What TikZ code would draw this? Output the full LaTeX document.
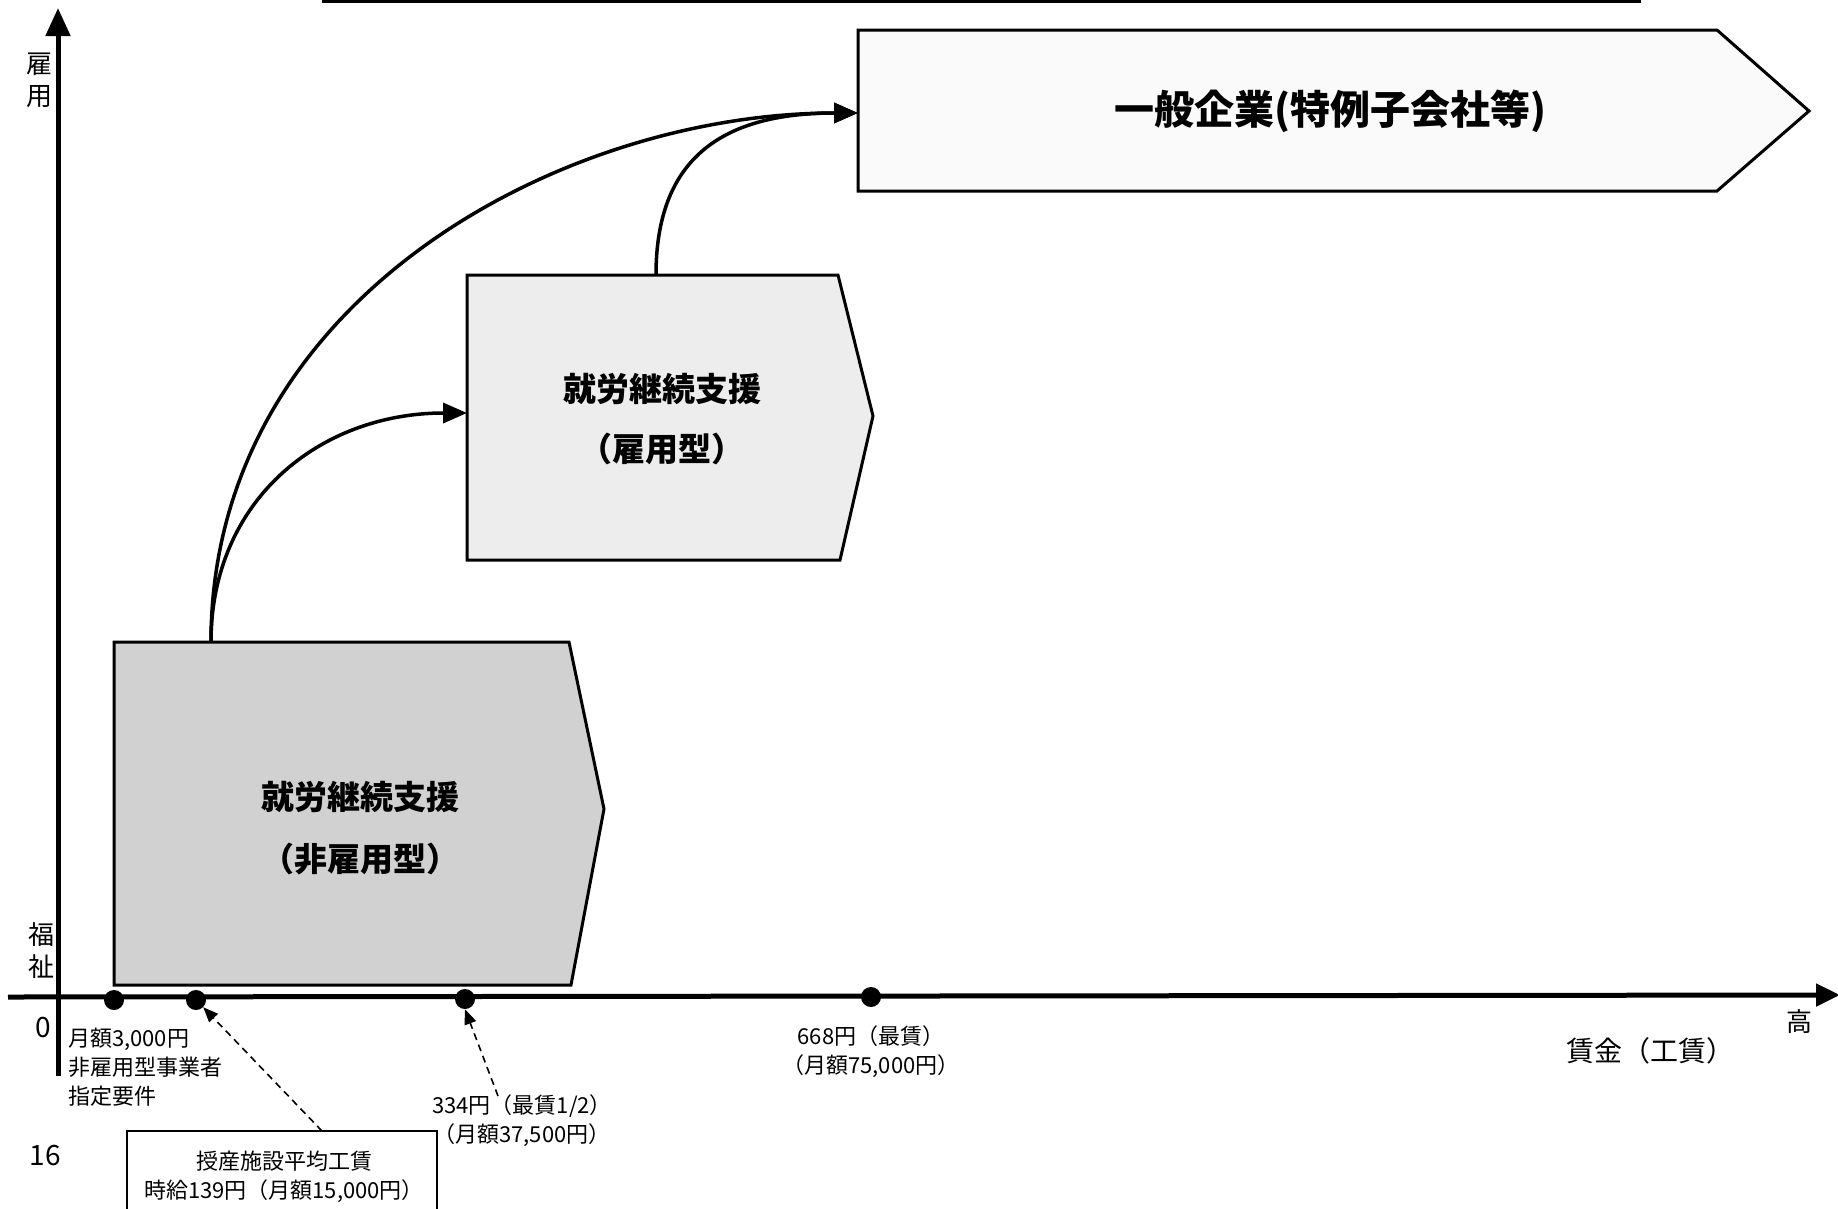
\documentclass[tikz,border=0pt]{standalone}
\usepackage{fontspec}
\setmainfont{Noto Sans CJK JP}
\usetikzlibrary{arrows.meta}
\tikzset{
  boxline/.style={draw=black, line width=3pt, line join=miter},
  flow/.style={line width=3.5pt, -{Triangle[length=24pt,width=20pt]}},
  dashedarrow/.style={line width=1.6pt, dash pattern=on 7pt off 5pt, -{Triangle[length=15pt,width=12pt]}},
  dot/.style={circle, fill=black, inner sep=0pt, minimum size=20pt},
  lbl/.style={font=\fontsize{22}{29}\selectfont, inner sep=0pt, align=center},
  boxtext/.style={font=\fontsize{33}{60}\selectfont\bfseries, inner sep=0pt, align=center}
}
\begin{document}
\begin{tikzpicture}[x=1pt, y=-1pt]
\useasboundingbox (0,0) rectangle (1838,1208);
\fill[white] (0,0) rectangle (1838,1208);

% top line (cut off)
\draw[line width=4pt] (322,1) -- (1641,1);

% boxes
\path[boxline, fill=black!18] (114,642) -- (569,642) -- (604,809) -- (571,985) -- (114,985) -- cycle;
\path[boxline, fill=black!7] (467,275) -- (838,275) -- (873,416) -- (840,560) -- (467,560) -- cycle;
\path[boxline, fill=black!2] (858,30) -- (1717,30) -- (1809,111) -- (1717,191) -- (858,191) -- cycle;

\node[boxtext] (b1a) at (360,797) {就労継続支援};
\node[boxtext] (b1b) at (360,859) {（非雇用型）};
\node[boxtext] (b2a) at (662,389) {就労継続支援};
\node[boxtext] (b2b) at (662,449) {（雇用型）};
\node[font=\fontsize{40}{48}\selectfont\bfseries, inner sep=0pt] (b3) at (1330,111) {一般企業(特例子会社等)};

% connection points
\coordinate (b1top) at (211,642);
\coordinate (b2left) at (467,413);
\coordinate (b2top) at (656,275);
\coordinate (b3left) at (858,113);

\draw[flow] (b1top) .. controls (211,500) and (320,413) .. (b2left);
\draw[flow] (b1top) .. controls (211,300) and (560,113) .. (b3left);
\draw[flow] (b2top) .. controls (656,160) and (720,113) .. (b3left);

% axes
\coordinate (yb) at (58,1076);
\coordinate (yt) at (58,8);
\coordinate (xl) at (8,997);
\coordinate (xr) at (1840,995);
\draw[line width=5pt, -{Triangle[length=28pt,width=24pt]}] (yb) -- (yt);
\draw[line width=5pt, -{Triangle[length=24pt,width=22pt]}] (xl) -- (xr);

% dots
\node[dot] (d1) at (114,1000) {};
\node[dot] (d2) at (196,1000) {};
\node[dot] (d3) at (465,999) {};
\node[dot] (d4) at (871,997) {};

% axis labels
\node[font=\fontsize{26}{32}\selectfont, inner sep=0pt, align=center] (yl1) at (40,80) {雇\\用};
\node[font=\fontsize{26}{32}\selectfont, inner sep=0pt, align=center] (yl2) at (41,951) {福\\祉};
\node[font=\fontsize{28}{32}\selectfont, inner sep=0pt] (zero) at (43,1027) {0};
\node[font=\fontsize{28}{32}\selectfont, inner sep=0pt] (page) at (45,1155) {16};
\node[font=\fontsize{26}{32}\selectfont, inner sep=0pt] (high) at (1799,1022) {高};
\node[font=\fontsize{28}{32}\selectfont, inner sep=0pt] (wage) at (1650,1051) {賃金（工賃）};

% small labels
\node[lbl, align=left, anchor=north west] (l1) at (68,1028) {月額3,000円\\非雇用型事業者\\指定要件};
\node[lbl] (l3) at (522,1121) {334円（最賃1/2）\\（月額37,500円）};
\node[lbl] (l4) at (871,1052) {668円（最賃）\\（月額75,000円）};

% label box
\draw[line width=1.5pt] (127,1240) -- (127,1131) -- (437,1131) -- (437,1240);
\node[lbl] (l2) at (284,1177) {授産施設平均工賃\\時給139円（月額15,000円）};
\coordinate (l2top) at (322,1131);
\coordinate (l3top) at (498,1096);

\draw[dashedarrow] (l2top) -- (d2.south east);
\draw[dashedarrow] (l3top) -- (d3.south);
\end{tikzpicture}
\end{document}
